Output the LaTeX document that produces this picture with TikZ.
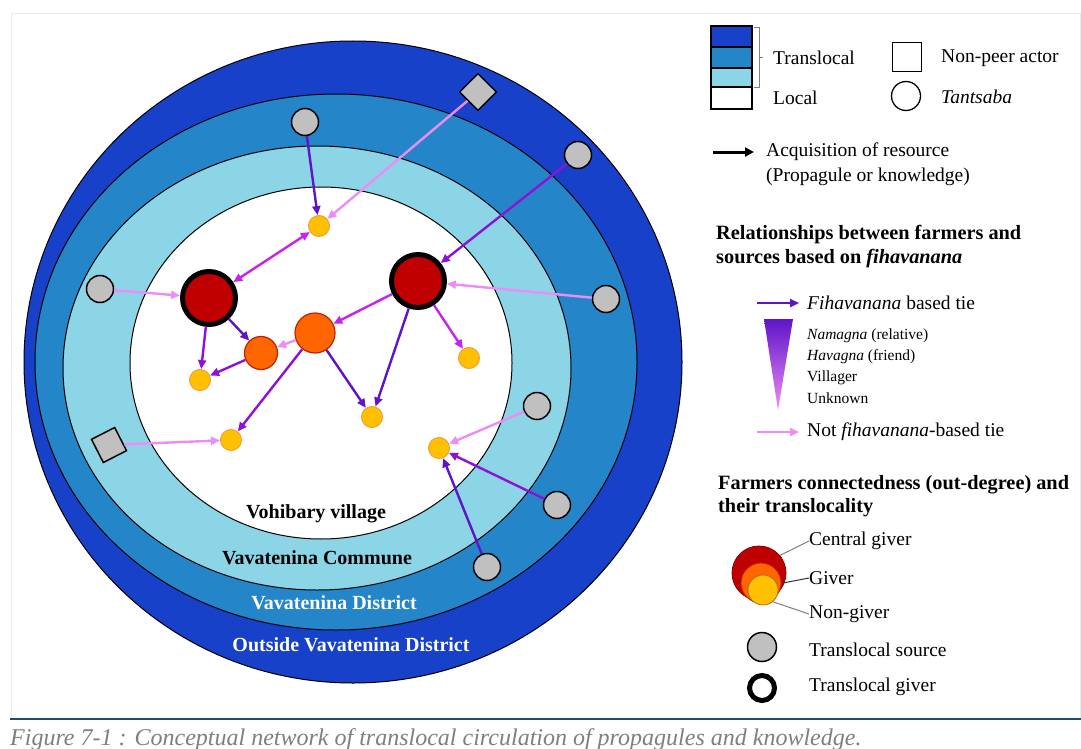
\documentclass[tikz,border=0pt]{standalone}
\usepackage{fontspec}
\setmainfont{Liberation Serif}
\usetikzlibrary{arrows.meta}
\definecolor{bdark}{HTML}{1641C8}
\definecolor{bmid}{HTML}{2585C9}
\definecolor{blight}{HTML}{8BD5E6}
\definecolor{tieA}{HTML}{5E14C9}
\definecolor{tieB}{HTML}{8E12D6}
\definecolor{tieC}{HTML}{C424EC}
\definecolor{tieD}{HTML}{EE8CF6}
\definecolor{srcgray}{HTML}{C0C0C0}
\definecolor{cred}{HTML}{C00000}
\definecolor{corange}{HTML}{FF6600}
\definecolor{gborder}{HTML}{C02000}
\definecolor{cyellow}{HTML}{FFC000}
\definecolor{yborder}{HTML}{F0A040}
\definecolor{captiongray}{HTML}{7F7F7F}
\definecolor{rulecol}{HTML}{1F4E6B}
\definecolor{leadgray}{HTML}{808080}
\begin{document}
\begin{tikzpicture}[x=1pt,y=-1pt,
  src/.style={circle, draw=black, line width=1.5pt, fill=srcgray, minimum size=27pt, inner sep=0pt},
  npa/.style={rectangle, draw=black, line width=1.5pt, fill=srcgray, minimum size=26pt, inner sep=0pt},
  cgiver/.style={circle, draw=black, line width=5pt, fill=cred, minimum size=53pt, inner sep=0pt},
  giver/.style={circle, draw=gborder, line width=1.2pt, fill=corange, inner sep=0pt},
  ngiver/.style={circle, draw=yborder, line width=1pt, fill=cyellow, minimum size=21pt, inner sep=0pt},
  tie/.style={line width=2.4pt, -{Triangle[length=9pt,width=8pt]}},
  dtie/.style={line width=2.4pt, {Triangle[length=9pt,width=8pt]}-{Triangle[length=9pt,width=8pt]}},
  zone/.style={font=\bfseries\fontsize{20}{22}\selectfont},
  leg/.style={anchor=west, inner sep=0pt, font=\fontsize{19.5}{22}\selectfont},
  legs/.style={anchor=west, inner sep=0pt, font=\fontsize{15.5}{18}\selectfont},
  legh/.style={anchor=west, inner sep=0pt, font=\bfseries\fontsize{20.3}{22}\selectfont},
]
\useasboundingbox (0,0) rectangle (1081,749);
\fill[white] (0,0) rectangle (1081,749);
\draw[black!8, line width=0.8pt] (11,13) rectangle (1080,719);
\draw[rulecol, line width=2pt] (10,719) -- (1081,719);

% zones
\draw[fill=bdark, line width=1pt] (353,362) ellipse [x radius=329pt, y radius=321pt];
\draw[fill=bmid, line width=1pt] (336,362) ellipse [x radius=301pt, y radius=268pt];
\draw[fill=blight, line width=1pt] (317,368) ellipse [x radius=254pt, y radius=222pt];
\draw[fill=white, line width=1pt] (321,363) ellipse [x radius=191pt, y radius=176pt];

\node[zone] (lv) at (316,514) {Vohibary village};
\node[zone] (lc) at (317,558) {Vavatenina Commune};
\node[zone, text=white] (ld) at (334,603) {Vavatenina District};
\node[zone, text=white] (lo) at (351,645) {Outside Vavatenina District};

% actors
\node[src] (g1) at (305,122) {};
\node[src] (g2) at (578,155) {};
\node[src] (g3) at (100,289) {};
\node[src] (g4) at (606,299) {};
\node[src] (g5) at (537,406) {};
\node[src] (g6) at (557,505) {};
\node[src] (g7) at (487,567) {};
\node[npa, rotate=45] (d1) at (478,92) {};
\node[npa, rotate=27] (d2) at (109,445) {};

\node[cgiver] (r1) at (209,298) {};
\node[cgiver] (r2) at (418,281) {};
\node[giver, minimum size=40pt] (o1) at (315,333) {};
\node[giver, minimum size=33pt] (o2) at (261,353) {};
\node[ngiver] (y1) at (319,226) {};
\node[ngiver] (y2) at (200,380) {};
\node[ngiver] (y3) at (469,358) {};
\node[ngiver] (y4) at (372,417) {};
\node[ngiver] (y5) at (231,440) {};
\node[ngiver] (y6) at (439,448) {};

% ties
\draw[tie, tieA] (g1) -- (y1);
\draw[tie, tieD] (d1) -- (y1);
\draw[dtie, tieC] (r1) -- (y1);
\draw[tie, tieB] (g2) -- (r2);
\draw[tie, tieD] (g3) -- (r1);
\draw[tie, tieD] (g4) -- (r2);
\draw[tie, tieA] (r1) -- (o2);
\draw[tie, tieB] (r1) -- (y2);
\draw[tie, tieB] (o2) -- (y2);
\draw[tie, tieD] (o1) -- (o2);
\draw[tie, tieC] (r2) -- (o1);
\draw[tie, tieB] (o1) -- (y5);
\draw[tie, tieA] (o1) -- (y4);
\draw[tie, tieA] (r2) -- (y4);
\draw[tie, tieC] (r2) -- (y3);
\draw[tie, tieD] (d2) -- (y5);
\draw[tie, tieD] (g5) -- (y6);
\draw[tie, tieB] (g6) -- (y6);
\draw[tie, tieA] (g7) -- (y6);

% legend: zones
\draw[line width=1.2pt, fill=bdark] (711,26) rectangle (752,47);
\draw[line width=1.2pt, fill=bmid] (711,47) rectangle (752,68);
\draw[line width=1.2pt, fill=blight] (711,68) rectangle (752,87);
\draw[line width=1.2pt, fill=white] (711,87) rectangle (752,109);
\draw[leadgray, line width=0.8pt] (754,27) -- (759,27) -- (759,87) -- (754,87);
\draw[leadgray, line width=0.8pt] (759,57) -- (763,57);
\node[leg] (tl) at (773,58) {Translocal};
\node[leg] (ll) at (773,98) {Local};
\node[rectangle, draw=black, line width=1.3pt, minimum size=29pt, inner sep=0pt] (lsq) at (907,57) {};
\node[leg] (lnp) at (941,58) {Non-peer actor};
\node[circle, draw=black, line width=1.3pt, minimum size=29pt, inner sep=0pt] (lci) at (906,96) {};
\node[leg] (lta) at (941,97) {\itshape Tantsaba};

\coordinate (ka) at (713,152);
\coordinate (kb) at (754,152);
\draw[line width=3pt, -{Triangle[length=9pt,width=9pt]}] (ka) -- (kb);
\node[leg] (lacq) at (766,152) {Acquisition of resource};
\node[leg] (lprop) at (766,177) {(Propagule or knowledge)};

% legend: relationships
\node[legh] (h1) at (716,235) {Relationships between farmers and};
\node[legh] (h2) at (716,259) {sources based on \textit{fihavanana}};
\coordinate (fa) at (757,303);
\coordinate (fb) at (799,303);
\draw[tie, tieA] (fa) -- (fb);
\node[leg] (lfib) at (807,303) {\textit{Fihavanana} based tie};
\shade[top color=tieA, bottom color=tieD] (764,319) -- (793,319) -- (778,410) -- cycle;
\node[legs] (ln1) at (807,336) {\textit{Namagna} (relative)};
\node[legs] (ln2) at (807,357) {\textit{Havagna} (friend)};
\node[legs] (ln3) at (807,378) {Villager};
\node[legs] (ln4) at (807,398) {Unknown};
\coordinate (na) at (757,432);
\coordinate (nb) at (799,432);
\draw[tie, tieD] (na) -- (nb);
\node[leg] (lnot) at (807,432) {Not \textit{fihavanana}-based tie};

% legend: connectedness
\node[legh] (h3) at (718,485) {Farmers connectedness (out-degree) and};
\node[legh] (h4) at (718,508) {their translocality};
\node[circle, fill=cred, draw=cred!70!black, line width=0.8pt, minimum size=54pt, inner sep=0pt] (lcg) at (759,573) {};
\node[circle, fill=corange, draw=gborder, line width=0.8pt, minimum size=40pt, inner sep=0pt] (lgv) at (761,583) {};
\node[circle, fill=cyellow, draw=yborder!70!black, line width=0.8pt, minimum size=30pt, inner sep=0pt] (lng) at (763,590) {};
\node[leg] (tcg) at (809,541) {Central giver};
\node[leg] (tgv) at (809,578) {Giver};
\node[leg] (tng) at (809,614) {Non-giver};
\draw[leadgray, line width=1pt] (lcg.40) -- (tcg.west);
\draw[black!80, line width=1pt] (783,583) -- (tgv.west);
\draw[leadgray, line width=1pt] (lng.-50) -- (tng.west);
\node[src, minimum size=29pt] (lsrc) at (762,647) {};
\node[leg] (tsrc) at (809,650) {Translocal source};
\node[circle, draw=black, line width=5pt, fill=white, minimum size=25pt, inner sep=0pt] (ltg) at (762,688) {};
\node[leg] (ttg) at (809,687) {Translocal giver};

% caption
\node[anchor=base west, inner sep=0pt, text=captiongray, font=\itshape\fontsize{24}{26}\selectfont] (cap) at (10,745) {Figure 7-1 : Conceptual network of translocal circulation of propagules and knowledge.};
\end{tikzpicture}
\end{document}
